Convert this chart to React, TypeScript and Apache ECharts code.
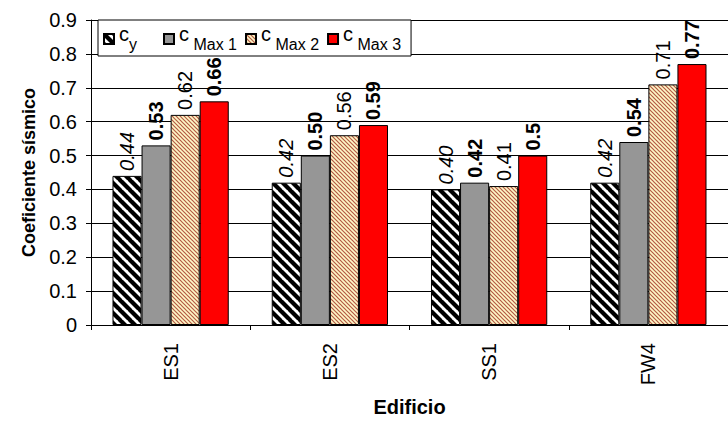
import React, { useEffect, useRef } from "react";
import * as echarts from "echarts";

const categories = ["ES1", "ES2", "SS1", "FW4"];
const cy = [0.44, 0.42, 0.4, 0.42];
const cMax1 = [0.53, 0.5, 0.42, 0.54];
const cMax2 = [0.62, 0.56, 0.41, 0.71];
const cMax3 = [0.66, 0.59, 0.5, 0.77];
const cyLabels = ["0.44", "0.42", "0.40", "0.42"];
const cMax1Labels = ["0.53", "0.50", "0.42", "0.54"];
const cMax2Labels = ["0.62", "0.56", "0.41", "0.71"];
const cMax3Labels = ["0.66", "0.59", "0.5", "0.77"];
const yTicks = [0, 0.1, 0.2, 0.3, 0.4, 0.5, 0.6, 0.7, 0.8, 0.9];

const FONT = "'Liberation Sans', Arial, sans-serif";
const NB = "\u00a0";

function stripes(size: number, bg: string, fg: string, lw: number) {
  const c = document.createElement("canvas");
  c.width = size;
  c.height = size;
  const ctx = c.getContext("2d")!;
  ctx.fillStyle = bg;
  ctx.fillRect(0, 0, size, size);
  ctx.strokeStyle = fg;
  ctx.lineWidth = lw;
  for (const k of [-size, 0, size]) {
    ctx.beginPath();
    ctx.moveTo(k - 1, -1);
    ctx.lineTo(k + size + 1, size + 1);
    ctx.stroke();
  }
  return c;
}

export default function App() {
  const ref = useRef<HTMLDivElement>(null);
  useEffect(() => {
    const chart = echarts.init(ref.current!, null, { renderer: "svg" });
    const cyPattern = { image: stripes(10, "#ffffff", "#000000", 4.2), repeat: "repeat" };
    const m2Pattern = { image: stripes(4, "#fff8c8", "#b45a44", 1.2), repeat: "repeat" };

    const legendNames: Record<string, string> = {
      cy: "{c|c}{sy|y}",
      cMax1: "{c|c}{s|" + NB + "Max 1}",
      cMax2: "{c|c}{s|" + NB + "Max 2}",
      cMax3: "{c|c}{s|" + NB + "Max 3}",
    };

    const mkLabel = (labels: string[], italic: boolean, bold: boolean) => ({
      show: true,
      position: "top",
      rotate: 90,
      align: "left",
      verticalAlign: "middle",
      distance: 5,
      fontSize: 20,
      fontFamily: FONT,
      fontStyle: italic ? "italic" : "normal",
      fontWeight: bold ? "bold" : "normal",
      color: "#000",
      formatter: (p: any) => labels[p.dataIndex],
    });

    const base = {
      type: "bar",
      barGap: "0%",
      barCategoryGap: "27%",
      itemStyle: { borderColor: "#000", borderWidth: 1 },
    };

    chart.setOption({
      animation: false,
      backgroundColor: "#fff",
      grid: { left: 91, right: -18, top: 20, bottom: 94 },
      legend: {
        left: 98,
        top: 20,
        padding: [4, 10, 4, 5],
        backgroundColor: "#fff",
        borderColor: "#000",
        borderWidth: 1,
        borderRadius: 0,
        itemWidth: 10,
        itemHeight: 10,
        itemGap: 8,
        itemTextGap: 7,
        icon: "rect",
        data: ["cy", "cMax1", "cMax2", "cMax3"],
        formatter: (name: string) => legendNames[name],
        textStyle: {
          color: "#000",
          fontFamily: FONT,
          fontSize: 16,
          rich: {
            c: { fontSize: 20, padding: [0, 0, 10, 0], fontFamily: FONT, color: "#000" },
            s: { fontSize: 16, padding: [10, 0, 0, 0], fontFamily: FONT, color: "#000" },
            sy: { fontSize: 16, lineHeight: 18, width: 26, align: "left", padding: [10, 0, 0, 0], fontFamily: FONT, color: "#000" },
          },
        },
      },
      xAxis: {
        type: "category",
        data: categories,
        name: "Edificio",
        nameLocation: "middle",
        nameGap: 72,
        nameTextStyle: { fontFamily: FONT, fontWeight: "bold", fontSize: 20, color: "#000" },
        axisLine: { lineStyle: { color: "#000", width: 1 } },
        axisTick: { show: true, length: 5, lineStyle: { color: "#000" } },
        axisLabel: { rotate: 90, margin: 18, fontSize: 20, fontFamily: FONT, color: "#000" },
      },
      yAxis: {
        type: "value",
        min: 0,
        max: 0.9,
        interval: 0.1,
        name: "Coeficiente sísmico",
        nameLocation: "middle",
        nameGap: 53,
        nameRotate: 90,
        nameTextStyle: { fontFamily: FONT, fontWeight: "bold", fontSize: 18, color: "#000" },
        axisLine: { show: true, lineStyle: { color: "#000", width: 1 } },
        axisTick: { show: true, length: 5, lineStyle: { color: "#000" } },
        axisLabel: {
          margin: 14,
          fontSize: 20,
          fontFamily: FONT,
          color: "#000",
          formatter: (v: number) => {
            const t = yTicks.find((x) => Math.abs(x - v) < 1e-6);
            return t === 0 ? "0" : (t ?? v).toFixed(1);
          },
        },
        splitLine: { show: true, lineStyle: { color: "#000", width: 1 } },
      },
      series: [
        { ...base, name: "cy", data: cy, itemStyle: { ...base.itemStyle, color: cyPattern }, label: mkLabel(cyLabels, true, false) },
        { ...base, name: "cMax1", data: cMax1, itemStyle: { ...base.itemStyle, color: "#969696" }, label: mkLabel(cMax1Labels, false, true) },
        { ...base, name: "cMax2", data: cMax2, itemStyle: { ...base.itemStyle, color: m2Pattern }, label: mkLabel(cMax2Labels, false, false) },
        { ...base, name: "cMax3", data: cMax3, itemStyle: { ...base.itemStyle, color: "#ff0000" }, label: mkLabel(cMax3Labels, false, true) },
      ],
    });
    return () => chart.dispose();
  }, []);
  return <div ref={ref} style={{ position: "fixed", left: 0, top: 0, width: 728, height: 422 }} />;
}
